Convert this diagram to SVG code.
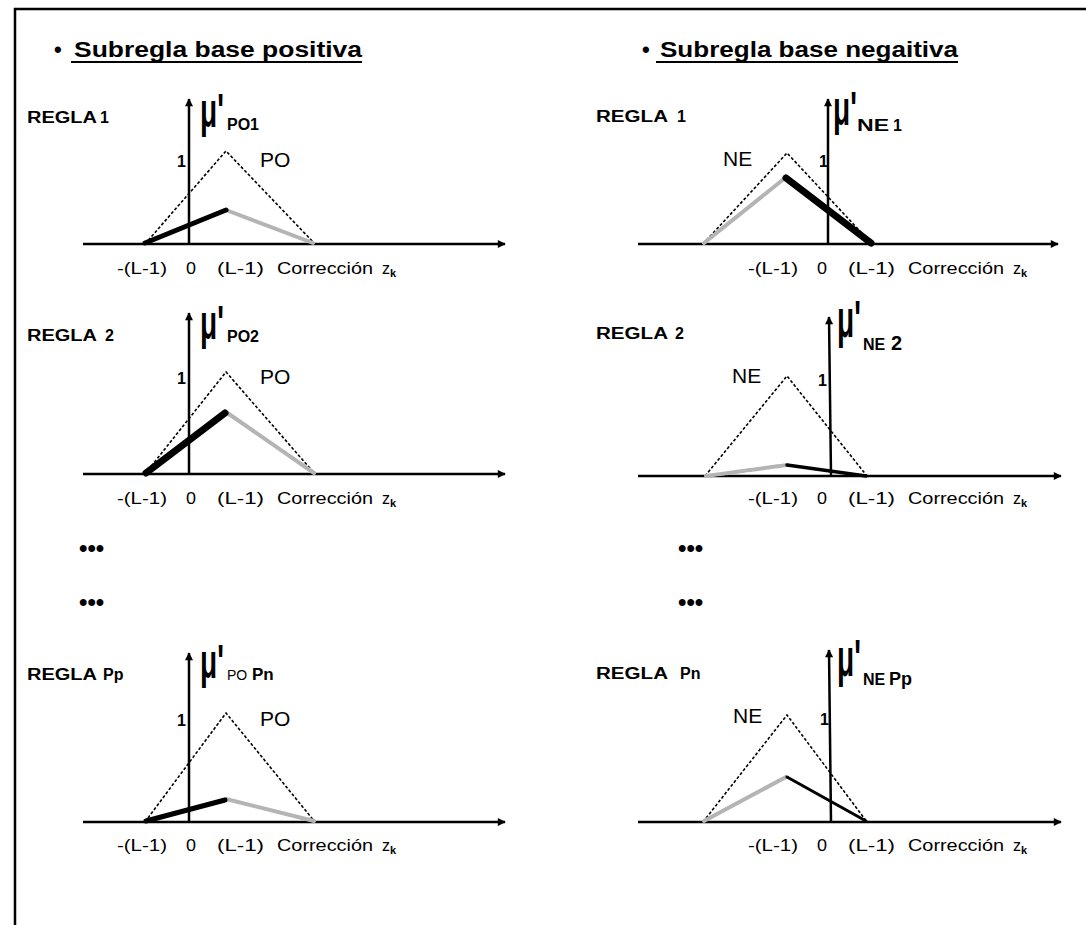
<svg xmlns="http://www.w3.org/2000/svg" width="1086" height="925" viewBox="0 0 1086 925">
<defs>
<marker id="arr" viewBox="0 0 10 10" refX="9" refY="5" markerWidth="4" markerHeight="3.2" orient="auto" markerUnits="strokeWidth">
<path d="M0,0 L10,5 L0,10 z" fill="#000"/>
</marker>
<style>
text{font-family:"Liberation Sans",Arial,sans-serif;fill:#000}
.ttl{font-size:22px;font-weight:bold}
.rg{font-size:16px;font-weight:bold}
.ax{stroke:#000;stroke-width:2.5;fill:none}
.axa{stroke:#000;stroke-width:2.5;fill:none;marker-end:url(#arr)}
.tri{stroke:#000;stroke-width:1.6;stroke-dasharray:3 2;fill:none}
.gr{stroke:#b4b4b4;stroke-width:4;fill:none;stroke-linecap:round}
.bk{stroke:#000;fill:none;stroke-linecap:round}
.one{font-size:16px;font-weight:bold}
.set{font-size:21px}
.mu{font-size:40px;font-weight:bold}
.sub{font-size:16px;font-weight:bold}
.lb{font-size:16px}
.dots{font-size:24px;font-weight:bold}
</style>
</defs>
<rect width="1086" height="925" fill="#fff"/>
<path d="M15,925 V9 H1086" stroke="#000" stroke-width="2.5" fill="none"/>

<g id="title-pos">
<text class="ttl" x="54" y="57">•</text>
<text class="ttl" x="74" y="57" textLength="288" lengthAdjust="spacingAndGlyphs">Subregla base positiva</text>
<line x1="71" y1="62" x2="362" y2="62" stroke="#000" stroke-width="2"/>
</g>
<g id="title-neg">
<text class="ttl" x="642" y="57">•</text>
<text class="ttl" x="660" y="57" textLength="298" lengthAdjust="spacingAndGlyphs">Subregla base negaitiva</text>
<line x1="656" y1="62" x2="958" y2="62" stroke="#000" stroke-width="2"/>
</g>

<g id="connectors">
<line class="axa" x1="83" y1="244" x2="505" y2="244"/>
<line class="axa" x1="189" y1="244" x2="189" y2="99"/>
<line class="axa" x1="83" y1="474" x2="505" y2="474"/>
<line class="axa" x1="189" y1="474" x2="189" y2="313"/>
<line class="axa" x1="83" y1="822" x2="505" y2="822"/>
<line class="axa" x1="189" y1="822" x2="189" y2="653"/>
<line class="axa" x1="638" y1="244" x2="1058" y2="244"/>
<line class="axa" x1="828" y1="244" x2="828" y2="99"/>
<line class="axa" x1="638" y1="476" x2="1061" y2="476"/>
<line class="axa" x1="831" y1="476" x2="829" y2="317"/>
<line class="axa" x1="638" y1="822" x2="1061" y2="822"/>
<line class="axa" x1="831" y1="822" x2="829" y2="650"/>
</g>

<g id="rule1-pos">
<text class="rg" x="27" y="123" textLength="70" lengthAdjust="spacingAndGlyphs">REGLA</text>
<text class="rg" x="100" y="123">1</text>
<text class="mu" transform="translate(200,127) scale(0.7,1.2)">μ'</text>
<text class="sub" x="227" y="130">PO1</text>
<polyline class="tri" points="145,244 226,151 315,244"/>
<line class="gr" x1="226" y1="210" x2="313" y2="243"/>
<line class="bk" stroke-width="5" x1="145" y1="243" x2="226" y2="210"/>
<text class="one" x="177" y="167">1</text>
<text class="set" x="260" y="167">PO</text>
</g>

<g id="rule2-pos">
<text class="rg" x="27" y="341" textLength="70" lengthAdjust="spacingAndGlyphs">REGLA</text>
<text class="rg" x="105" y="341">2</text>
<text class="mu" transform="translate(200,339) scale(0.7,1.2)">μ'</text>
<text class="sub" x="227" y="342">PO2</text>
<polyline class="tri" points="145,474 226,372 315,474"/>
<line class="gr" x1="226" y1="412" x2="314" y2="473"/>
<line class="bk" stroke-width="7" x1="146" y1="473" x2="225" y2="413"/>
<text class="one" x="177" y="384">1</text>
<text class="set" x="260" y="384">PO</text>
</g>

<g id="ruleP-pos">
<text class="rg" x="27" y="680" textLength="70" lengthAdjust="spacingAndGlyphs">REGLA</text>
<text class="rg" x="103" y="680">Pp</text>
<text class="mu" transform="translate(200,678) scale(0.7,1.2)">μ'</text>
<text x="227" y="680" font-size="14">PO</text>
<text x="252" y="680" font-size="17" font-weight="bold">Pn</text>
<polyline class="tri" points="145,822 226,713 315,822"/>
<line class="gr" x1="226" y1="799" x2="314" y2="821"/>
<line class="bk" stroke-width="5" x1="146" y1="821" x2="225" y2="800"/>
<text class="one" x="177" y="726">1</text>
<text class="set" x="260" y="726">PO</text>
</g>

<g id="rule1-neg">
<text class="rg" x="596" y="122" textLength="72" lengthAdjust="spacingAndGlyphs">REGLA</text>
<text class="rg" x="677" y="122">1</text>
<text class="mu" transform="translate(833,125) scale(0.7,1.2)">μ'</text>
<text class="sub" x="857" y="131" textLength="32" lengthAdjust="spacingAndGlyphs">NE</text>
<text class="sub" x="893" y="131">1</text>
<polyline class="tri" points="703,244 787,153 872,244"/>
<line class="gr" x1="704" y1="243" x2="785" y2="178"/>
<line class="bk" stroke-width="7" x1="786" y1="178" x2="871" y2="243"/>
<text class="set" x="723" y="166">NE</text>
<text class="one" x="819" y="167">1</text>
</g>

<g id="rule2-neg">
<text class="rg" x="596" y="339" textLength="72" lengthAdjust="spacingAndGlyphs">REGLA</text>
<text class="rg" x="675" y="339">2</text>
<text class="mu" transform="translate(837,337) scale(0.7,1.3)">μ'</text>
<text class="sub" x="863" y="350" font-size="15">NE</text>
<text x="891" y="350" font-size="20" font-weight="bold">2</text>
<polyline class="tri" points="705,476 787,376 867,476"/>
<line class="gr" stroke-dasharray="5 2" x1="706" y1="476" x2="787" y2="465"/>
<line class="bk" stroke-width="3.5" x1="787" y1="465" x2="866" y2="476"/>
<text class="set" x="732" y="383">NE</text>
<text class="one" x="818" y="386">1</text>
</g>

<g id="ruleP-neg">
<text class="rg" x="596" y="679" textLength="72" lengthAdjust="spacingAndGlyphs">REGLA</text>
<text class="rg" x="680" y="679">Pn</text>
<text class="mu" transform="translate(837,676) scale(0.7,1.3)">μ'</text>
<text class="sub" x="863" y="685" font-size="15">NE</text>
<text x="889" y="685" font-size="18" font-weight="bold">Pp</text>
<polyline class="tri" points="703,822 787,715 867,822"/>
<line class="gr" x1="704" y1="821" x2="786" y2="777"/>
<line class="bk" stroke-width="3" x1="787" y1="777" x2="866" y2="821"/>
<text class="set" x="733" y="723">NE</text>
<text class="one" x="820" y="725">1</text>
</g>

<g id="xlabels">
<text class="lb" x="117" y="274" textLength="50" lengthAdjust="spacingAndGlyphs">-(L-1)</text>
<text class="lb" x="186" y="274" textLength="10" lengthAdjust="spacingAndGlyphs">0</text>
<text class="lb" x="217" y="274" textLength="47" lengthAdjust="spacingAndGlyphs">(L-1)</text>
<text class="lb" x="277" y="274" textLength="96" lengthAdjust="spacingAndGlyphs">Corrección</text>
<text class="lb" x="382" y="274">z</text>
<text x="390" y="277" font-size="11" font-weight="bold">k</text>

<text class="lb" x="117" y="504" textLength="50" lengthAdjust="spacingAndGlyphs">-(L-1)</text>
<text class="lb" x="186" y="504" textLength="10" lengthAdjust="spacingAndGlyphs">0</text>
<text class="lb" x="217" y="504" textLength="47" lengthAdjust="spacingAndGlyphs">(L-1)</text>
<text class="lb" x="277" y="504" textLength="96" lengthAdjust="spacingAndGlyphs">Corrección</text>
<text class="lb" x="382" y="504">z</text>
<text x="390" y="507" font-size="11" font-weight="bold">k</text>

<text class="lb" x="117" y="851" textLength="50" lengthAdjust="spacingAndGlyphs">-(L-1)</text>
<text class="lb" x="186" y="851" textLength="10" lengthAdjust="spacingAndGlyphs">0</text>
<text class="lb" x="217" y="851" textLength="47" lengthAdjust="spacingAndGlyphs">(L-1)</text>
<text class="lb" x="277" y="851" textLength="96" lengthAdjust="spacingAndGlyphs">Corrección</text>
<text class="lb" x="382" y="851">z</text>
<text x="390" y="854" font-size="11" font-weight="bold">k</text>

<text class="lb" x="748" y="274" textLength="50" lengthAdjust="spacingAndGlyphs">-(L-1)</text>
<text class="lb" x="817" y="274" textLength="10" lengthAdjust="spacingAndGlyphs">0</text>
<text class="lb" x="848" y="274" textLength="47" lengthAdjust="spacingAndGlyphs">(L-1)</text>
<text class="lb" x="908" y="274" textLength="96" lengthAdjust="spacingAndGlyphs">Corrección</text>
<text class="lb" x="1013" y="274">z</text>
<text x="1021" y="277" font-size="11" font-weight="bold">k</text>

<text class="lb" x="748" y="504" textLength="50" lengthAdjust="spacingAndGlyphs">-(L-1)</text>
<text class="lb" x="817" y="504" textLength="10" lengthAdjust="spacingAndGlyphs">0</text>
<text class="lb" x="848" y="504" textLength="47" lengthAdjust="spacingAndGlyphs">(L-1)</text>
<text class="lb" x="908" y="504" textLength="96" lengthAdjust="spacingAndGlyphs">Corrección</text>
<text class="lb" x="1013" y="504">z</text>
<text x="1021" y="507" font-size="11" font-weight="bold">k</text>

<text class="lb" x="748" y="851" textLength="50" lengthAdjust="spacingAndGlyphs">-(L-1)</text>
<text class="lb" x="817" y="851" textLength="10" lengthAdjust="spacingAndGlyphs">0</text>
<text class="lb" x="848" y="851" textLength="47" lengthAdjust="spacingAndGlyphs">(L-1)</text>
<text class="lb" x="908" y="851" textLength="96" lengthAdjust="spacingAndGlyphs">Corrección</text>
<text class="lb" x="1013" y="851">z</text>
<text x="1021" y="854" font-size="11" font-weight="bold">k</text>
</g>

<g id="ellipsis">
<text class="dots" x="79" y="556">•••</text>
<text class="dots" x="79" y="610">•••</text>
<text class="dots" x="678" y="556">•••</text>
<text class="dots" x="678" y="610">•••</text>
</g>
</svg>
